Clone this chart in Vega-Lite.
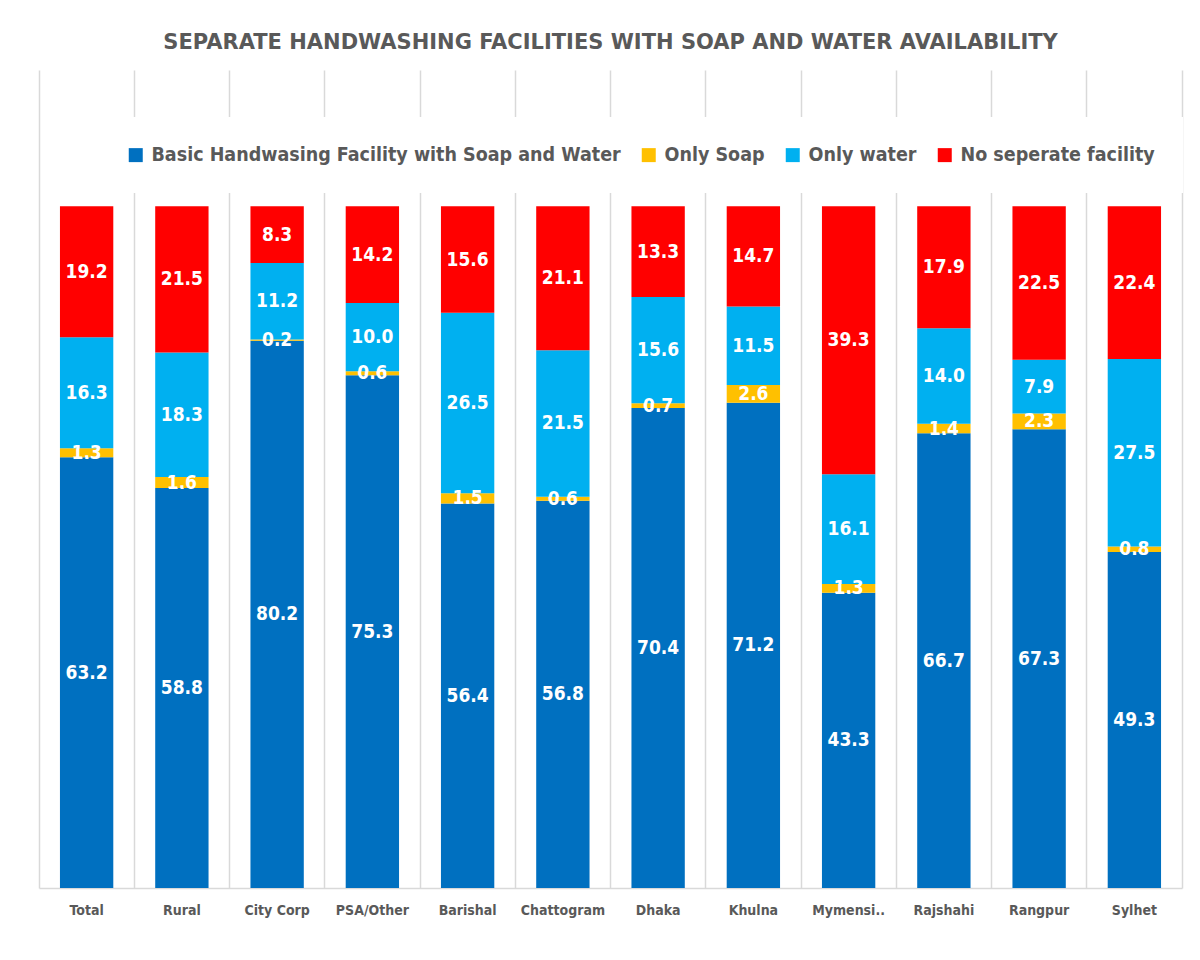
{
  "$schema": "https://vega.github.io/schema/vega-lite/v6.json",
  "width": 1143,
  "height": 818,
  "autosize": {"type": "none"},
  "padding": {"left": 39, "top": 70, "right": 18, "bottom": 72},
  "background": "white",
  "title": {
    "text": "SEPARATE HANDWASHING FACILITIES WITH SOAP AND WATER AVAILABILITY",
    "anchor": "middle",
    "frame": "group",
    "font": "DejaVu Sans",
    "fontSize": 21,
    "fontWeight": "bold",
    "color": "#595959",
    "baseline": "alphabetic",
    "offset": 0
  },
  "data": {
    "values": [
      {"region": "Total", "type": "Basic Handwasing Facility with Soap and Water", "k": 1, "value": 63.2},
      {"region": "Total", "type": "Only Soap", "k": 2, "value": 1.3},
      {"region": "Total", "type": "Only water", "k": 3, "value": 16.3},
      {"region": "Total", "type": "No seperate facility", "k": 4, "value": 19.2},
      {"region": "Rural", "type": "Basic Handwasing Facility with Soap and Water", "k": 1, "value": 58.8},
      {"region": "Rural", "type": "Only Soap", "k": 2, "value": 1.6},
      {"region": "Rural", "type": "Only water", "k": 3, "value": 18.3},
      {"region": "Rural", "type": "No seperate facility", "k": 4, "value": 21.5},
      {"region": "City Corp", "type": "Basic Handwasing Facility with Soap and Water", "k": 1, "value": 80.2},
      {"region": "City Corp", "type": "Only Soap", "k": 2, "value": 0.2},
      {"region": "City Corp", "type": "Only water", "k": 3, "value": 11.2},
      {"region": "City Corp", "type": "No seperate facility", "k": 4, "value": 8.3},
      {"region": "PSA/Other", "type": "Basic Handwasing Facility with Soap and Water", "k": 1, "value": 75.3},
      {"region": "PSA/Other", "type": "Only Soap", "k": 2, "value": 0.6},
      {"region": "PSA/Other", "type": "Only water", "k": 3, "value": 10.0},
      {"region": "PSA/Other", "type": "No seperate facility", "k": 4, "value": 14.2},
      {"region": "Barishal", "type": "Basic Handwasing Facility with Soap and Water", "k": 1, "value": 56.4},
      {"region": "Barishal", "type": "Only Soap", "k": 2, "value": 1.5},
      {"region": "Barishal", "type": "Only water", "k": 3, "value": 26.5},
      {"region": "Barishal", "type": "No seperate facility", "k": 4, "value": 15.6},
      {"region": "Chattogram", "type": "Basic Handwasing Facility with Soap and Water", "k": 1, "value": 56.8},
      {"region": "Chattogram", "type": "Only Soap", "k": 2, "value": 0.6},
      {"region": "Chattogram", "type": "Only water", "k": 3, "value": 21.5},
      {"region": "Chattogram", "type": "No seperate facility", "k": 4, "value": 21.1},
      {"region": "Dhaka", "type": "Basic Handwasing Facility with Soap and Water", "k": 1, "value": 70.4},
      {"region": "Dhaka", "type": "Only Soap", "k": 2, "value": 0.7},
      {"region": "Dhaka", "type": "Only water", "k": 3, "value": 15.6},
      {"region": "Dhaka", "type": "No seperate facility", "k": 4, "value": 13.3},
      {"region": "Khulna", "type": "Basic Handwasing Facility with Soap and Water", "k": 1, "value": 71.2},
      {"region": "Khulna", "type": "Only Soap", "k": 2, "value": 2.6},
      {"region": "Khulna", "type": "Only water", "k": 3, "value": 11.5},
      {"region": "Khulna", "type": "No seperate facility", "k": 4, "value": 14.7},
      {"region": "Mymensi..", "type": "Basic Handwasing Facility with Soap and Water", "k": 1, "value": 43.3},
      {"region": "Mymensi..", "type": "Only Soap", "k": 2, "value": 1.3},
      {"region": "Mymensi..", "type": "Only water", "k": 3, "value": 16.1},
      {"region": "Mymensi..", "type": "No seperate facility", "k": 4, "value": 39.3},
      {"region": "Rajshahi", "type": "Basic Handwasing Facility with Soap and Water", "k": 1, "value": 66.7},
      {"region": "Rajshahi", "type": "Only Soap", "k": 2, "value": 1.4},
      {"region": "Rajshahi", "type": "Only water", "k": 3, "value": 14.0},
      {"region": "Rajshahi", "type": "No seperate facility", "k": 4, "value": 17.9},
      {"region": "Rangpur", "type": "Basic Handwasing Facility with Soap and Water", "k": 1, "value": 67.3},
      {"region": "Rangpur", "type": "Only Soap", "k": 2, "value": 2.3},
      {"region": "Rangpur", "type": "Only water", "k": 3, "value": 7.9},
      {"region": "Rangpur", "type": "No seperate facility", "k": 4, "value": 22.5},
      {"region": "Sylhet", "type": "Basic Handwasing Facility with Soap and Water", "k": 1, "value": 49.3},
      {"region": "Sylhet", "type": "Only Soap", "k": 2, "value": 0.8},
      {"region": "Sylhet", "type": "Only water", "k": 3, "value": 27.5},
      {"region": "Sylhet", "type": "No seperate facility", "k": 4, "value": 22.4}
    ]
  },
  "encoding": {
    "x": {
      "field": "region",
      "type": "nominal",
      "sort": null,
      "scale": {"paddingInner": 0, "paddingOuter": 0},
      "axis": {
        "title": null,
        "labelAngle": 0,
        "bandPosition": 0,
        "grid": true,
        "gridColor": "#d9d9d9",
        "gridWidth": 1.5,
        "ticks": false,
        "domainColor": "#d9d9d9",
        "domainWidth": 1.5,
        "labelFont": "DejaVu Sans Condensed",
        "labelFontSize": 14,
        "labelFontWeight": "bold",
        "labelColor": "#595959",
        "labelPadding": 15
      }
    },
    "order": {"field": "k", "type": "quantitative", "sort": "ascending"}
  },
  "layer": [
    {
      "mark": {"type": "bar", "width": {"band": 0.56}},
      "encoding": {
        "y": {
          "field": "value",
          "type": "quantitative",
          "stack": "normalize",
          "scale": {"domain": [0, 1.2], "nice": false},
          "axis": {
            "orient": "right",
            "title": null,
            "labels": false,
            "ticks": false,
            "grid": false,
            "domainColor": "#d9d9d9",
            "domainWidth": 1.5
          }
        },
        "color": {
          "field": "type",
          "type": "nominal",
          "sort": ["Basic Handwasing Facility with Soap and Water", "Only Soap", "Only water", "No seperate facility"],
          "scale": {
            "domain": ["Basic Handwasing Facility with Soap and Water", "Only Soap", "Only water", "No seperate facility"],
            "range": ["#0070C0", "#FFC000", "#00B0F0", "#FF0000"]
          },
          "legend": {
            "orient": "none",
            "legendX": 59,
            "legendY": 47,
            "direction": "horizontal",
            "columns": 4,
            "title": null,
            "symbolType": "square",
            "symbolSize": 196,
            "symbolStrokeWidth": 0,
            "symbolOpacity": 1,
            "labelFont": "DejaVu Sans Condensed",
            "labelFontSize": 19.5,
            "labelFontWeight": "bold",
            "labelColor": "#595959",
            "labelOffset": 6,
            "labelLimit": 700,
            "columnPadding": 18,
            "fillColor": "white",
            "padding": 28
          }
        }
      }
    },
    {
      "mark": {
        "type": "text",
        "font": "DejaVu Sans Condensed",
        "fontSize": 19,
        "fontWeight": "bold",
        "baseline": "middle",
        "align": "center",
        "fill": "white"
      },
      "encoding": {
        "y": {
          "field": "value",
          "type": "quantitative",
          "stack": "normalize",
          "bandPosition": 0.5
        },
        "detail": {"field": "type", "type": "nominal"},
        "text": {"field": "value", "type": "quantitative", "format": ".1f"}
      }
    }
  ],
  "config": {"view": {"stroke": null}}
}
